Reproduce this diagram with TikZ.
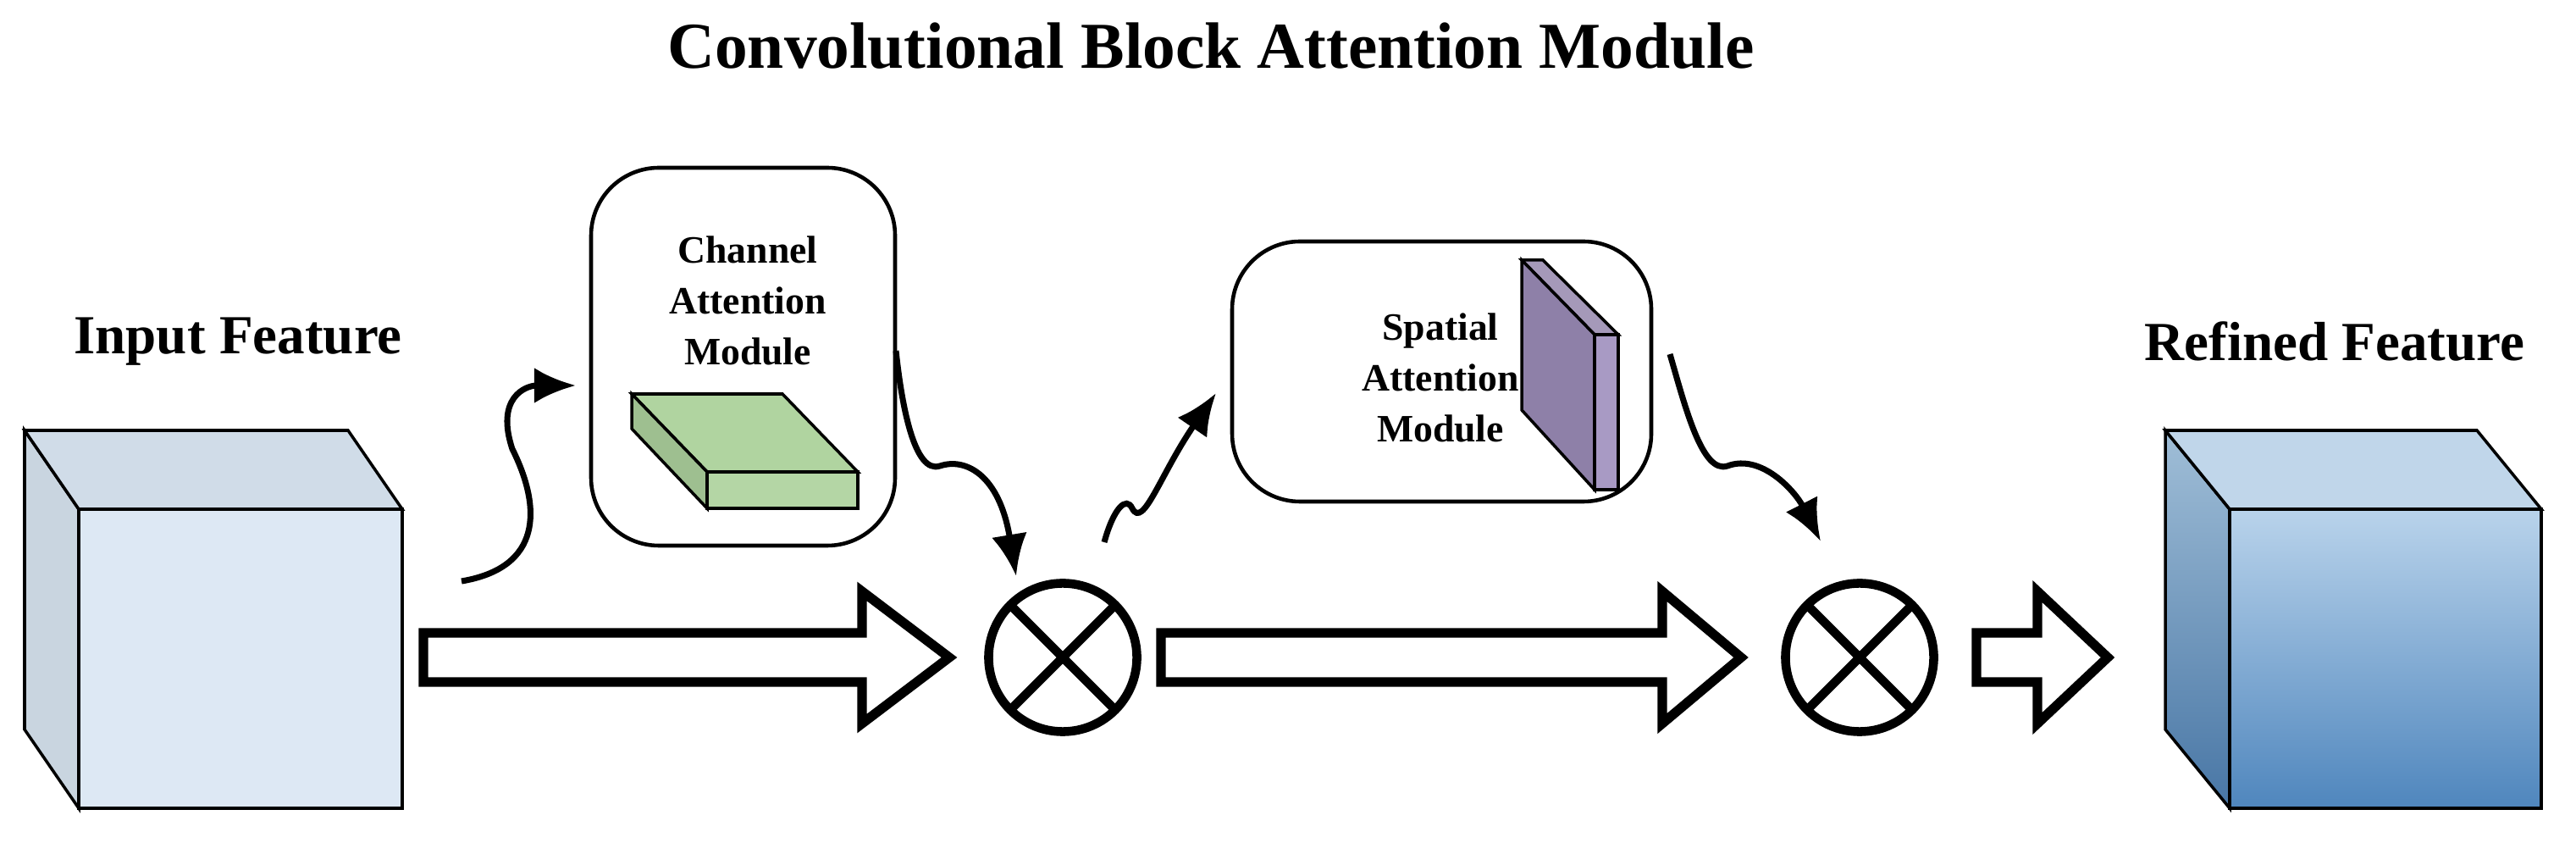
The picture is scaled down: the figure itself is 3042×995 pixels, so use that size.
\documentclass[tikz,border=0pt]{standalone}
\usepackage{fontspec}
\setmainfont{Liberation Serif}
\begin{document}
\begin{tikzpicture}[x=0.01cm,y=-0.01cm,
  edge/.style={draw=black,line width=1pt},
  lbl/.style={font=\bfseries\fontsize{18.5}{21}\selectfont},
  mtxt/.style={font=\bfseries\fontsize{13}{17}\selectfont,align=center},
  modbox/.style={draw=black,line width=1.3pt,rounded corners=0.8cm},
  mult/.style={circle,draw=black,line width=3pt,minimum size=1.75cm,inner sep=0pt,path picture={
     \draw[line width=3pt] (path picture bounding box.north west)--(path picture bounding box.south east)
       (path picture bounding box.north east)--(path picture bounding box.south west);}},
  blk/.style={draw=black,line width=3.2pt,fill=white,line join=miter},
  wavy/.style={line width=2pt,-{Latex[length=14pt,width=12pt]}}]
\usetikzlibrary{arrows.meta}
\useasboundingbox (0,0) rectangle (3042,995);
% title
\node[font=\bfseries\fontsize{22}{26}\selectfont] (title) at (1430,54) {Convolutional Block Attention Module};
% input cube
\filldraw[edge,fill={rgb,255:red,201;green,213;blue,224}] (93,601)--(29,508)--(29,861)--(93,954)--cycle;
\filldraw[edge,fill={rgb,255:red,208;green,220;blue,232}] (93,601)--(29,508)--(411,508)--(475,601)--cycle;
\filldraw[edge,fill={rgb,255:red,221;green,232;blue,244}] (93,601) rectangle (475,954);
\node[lbl] (inlbl) at (281,403) {Input Feature};
% refined cube
\definecolor{rtop}{RGB}{192,214,234}
\definecolor{rbot}{RGB}{79,134,189}
\filldraw[edge,top color={rgb,255:red,160;green,190;blue,215},bottom color={rgb,255:red,72;green,118;blue,165}] (2633,601)--(2557,508)--(2557,861)--(2633,954)--cycle;
\filldraw[edge,fill=rtop] (2633,601)--(2557,508)--(2925,508)--(3001,601)--cycle;
\filldraw[edge,top color={rgb,255:red,185;green,211;blue,235},bottom color=rbot] (2633,601) rectangle (3001,954);
\node[lbl] (outlbl) at (2757,403) {Refined Feature};
% channel module
\draw[modbox] (698,198) rectangle (1057,644);
\node[mtxt] (cam) at (883,355) {Channel\\Attention\\Module};
\coordinate (camL) at (680,455);
\coordinate (camR) at (1058,414);
\definecolor{gtop}{RGB}{176,212,160}
\filldraw[edge,fill=gtop] (746,465)--(924,465)--(1013,557)--(835,557)--cycle;
\filldraw[edge,fill=gtop!90!black] (746,465)--(746,506)--(835,600)--(835,557)--cycle;
\filldraw[edge,fill=gtop!95!white] (835,557) rectangle (1013,600);
% spatial module
\draw[modbox] (1455,285) rectangle (1950,592);
\node[mtxt] (sam) at (1701,446) {Spatial\\Attention\\Module};
\coordinate (samR) at (1972,418);
\definecolor{pur}{RGB}{142,128,168}
\filldraw[edge,fill=pur!80!white] (1797,307)--(1822,307)--(1911,395)--(1883,395)--cycle;
\filldraw[edge,fill=pur] (1797,307)--(1797,484)--(1883,578)--(1883,395)--cycle;
\filldraw[edge,fill={rgb,255:red,168;green,154;blue,196}] (1883,395) rectangle (1911,578);
% multipliers
\node[mult] (m1) at (1255,776) {};
\node[mult] (m2) at (2196,776) {};
\coordinate (m1t) at (1200,680);
\coordinate (m2t) at (2150,639);
% block arrows
\filldraw[blk] (500,747)--(1018,747)--(1018,698)--(1121,776)--(1018,854)--(1018,805)--(500,805)--cycle;
\filldraw[blk] (1371,747)--(1963,747)--(1963,698)--(2056,776)--(1963,854)--(1963,805)--(1371,805)--cycle;
\filldraw[blk] (2334,747)--(2406,747)--(2406,698)--(2489,776)--(2406,854)--(2406,805)--(2334,805)--cycle;
% wavy arrows
\coordinate (w1s) at (545,686);
\draw[wavy] (w1s) .. controls (640,670) and (640,600) .. (605,530) .. controls (585,470) and (620,455) .. (camL);
\draw[wavy] (camR) .. controls (1065,480) and (1080,560) .. (1110,550) .. controls (1140,540) and (1180,560) .. (m1t);
\coordinate (w3s) at (1304,640);
\draw[wavy] (w3s) .. controls (1315,600) and (1330,585) .. (1337,600) .. controls (1350,625) and (1370,560) .. (1436,464);
\draw[wavy] (samR) .. controls (1990,480) and (2010,560) .. (2040,550) .. controls (2080,535) and (2120,580) .. (m2t);
\end{tikzpicture}
\end{document}
